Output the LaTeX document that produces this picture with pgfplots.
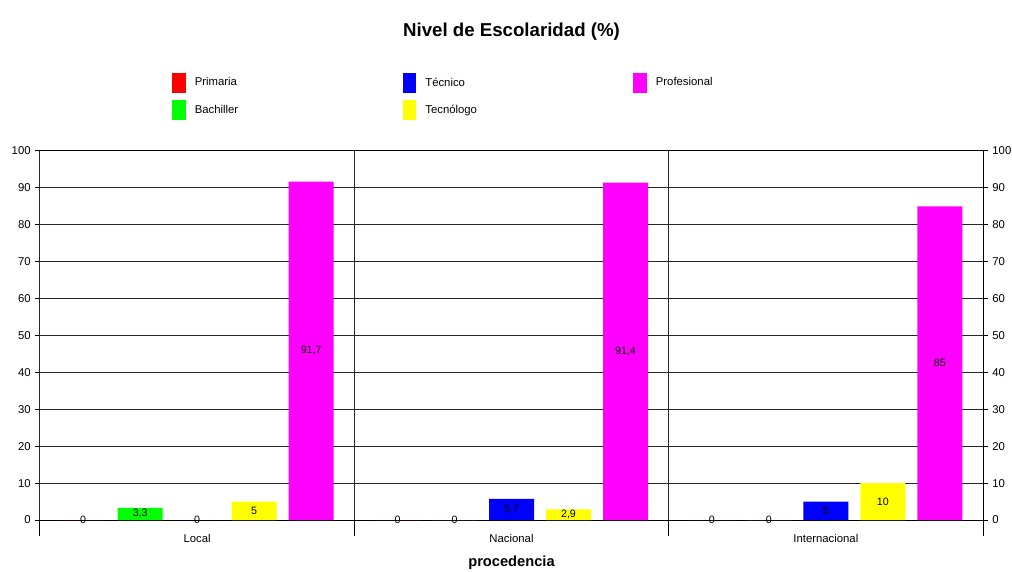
\documentclass[border=0pt]{standalone}
\usepackage{pgfplots}
\pgfplotsset{compat=1.18}
\usepackage{fontspec}
\setmainfont{Liberation Sans}
\definecolor{cRed}{RGB}{255,0,0}
\definecolor{cGreen}{RGB}{0,255,0}
\definecolor{cBlue}{RGB}{0,0,255}
\definecolor{cYellow}{RGB}{255,255,0}
\definecolor{cMag}{RGB}{255,0,255}

\begin{document}
\begin{tikzpicture}
\useasboundingbox (-30pt,-38.25pt) rectangle (729pt,390pt);
\begin{axis}[
  at={(0pt,0pt)}, anchor=south west,
  scale only axis, width=707.25pt, height=276.75pt,
  xmin=-0.5, xmax=2.5, ymin=0, ymax=100,
  ytick={0,10,...,100},
  ytick pos=left, xtick pos=bottom,
  ytick align=outside, major tick length=3.5pt,
  xtick={0,1,2}, xticklabels={Local,Nacional,Internacional},
  xtick style={draw=none},
  xticklabel style={yshift=-7.5pt},
  extra x ticks={-0.5,0.5,1.5,2.5},
  extra x tick labels={},
  extra x tick style={grid=major, xtick style={draw=black, line width=0.75pt}, xtick align=outside, major tick length=12pt},
  ymajorgrids,
  major grid style={black!85, line width=0.75pt},
  axis line style={black, line width=0.75pt},
  ytick style={black, line width=0.75pt},
  ticklabel style={font=\fontsize{8.5}{10}\selectfont},
  /pgf/number format/assume math mode=true,
  title={Nivel de Escolaridad (\%)},
  title style={font=\bfseries\fontsize{14}{16}\selectfont, at={(axis description cs:0.5,1.301)}, anchor=center},
  xlabel={procedencia},
  xlabel style={font=\bfseries\fontsize{11}{13}\selectfont, at={(axis description cs:0.5,-0.1165)}, anchor=center},
  legend columns=3,
  legend cell align=left,
  legend style={at={(axis description cs:0.140,1.2114)}, anchor=north west, draw=none, fill=none, inner sep=0pt, row sep=6pt,
    nodes={inner sep=0pt, font=\fontsize{8.5}{10}\selectfont},
    /tikz/every odd column/.append style={column sep=7pt}},
  visualization depends on={rawy \as \rawy},
  nodes near coords={\pgfmathprintnumber[fixed, precision=1, use comma]{\pgfplotspointmeta}},
  nodes near coords style={anchor=center, yshift={-\rawy*1.38375pt}, font=\fontsize{8}{9}\selectfont, text=black},
]
\addplot[ybar, bar width=33.75pt, bar shift=-85.5pt, fill=cRed, draw=none, forget plot,
  every node near coord/.append style={xshift=-85.5pt}] coordinates {(0,0) (1,0) (2,0)};
\addplot[ybar, bar width=33.75pt, bar shift=-42.75pt, fill=cGreen, draw=none, forget plot,
  every node near coord/.append style={xshift=-42.75pt}] coordinates {(0,3.3) (1,0) (2,0)};
\addplot[ybar, bar width=33.75pt, bar shift=0pt, fill=cBlue, draw=none, forget plot] coordinates {(0,0) (1,5.7) (2,5)};
\addplot[ybar, bar width=33.75pt, bar shift=42.75pt, fill=cYellow, draw=none, forget plot,
  every node near coord/.append style={xshift=42.75pt}] coordinates {(0,5) (1,2.9) (2,10)};
\addplot[ybar, bar width=33.75pt, bar shift=85.5pt, fill=cMag, draw=none, forget plot,
  every node near coord/.append style={xshift=85.5pt}] coordinates {(0,91.7) (1,91.4) (2,85)};
\addlegendimage{legend image code/.code={\fill[cRed] (0pt,-7pt) rectangle (9.5pt,7pt);}}
\addlegendentry{\makebox[156pt][l]{Primaria}}
\addlegendimage{legend image code/.code={\fill[cBlue] (0pt,-7pt) rectangle (9.5pt,7pt);}}
\addlegendentry{\makebox[156pt][l]{Técnico}}
\addlegendimage{legend image code/.code={\fill[cMag] (0pt,-7pt) rectangle (9.5pt,7pt);}}
\addlegendentry{\makebox[156pt][l]{Profesional}}
\addlegendimage{legend image code/.code={\fill[cGreen] (0pt,-7pt) rectangle (9.5pt,7pt);}}
\addlegendentry{\makebox[156pt][l]{Bachiller}}
\addlegendimage{legend image code/.code={\fill[cYellow] (0pt,-7pt) rectangle (9.5pt,7pt);}}
\addlegendentry{\makebox[156pt][l]{Tecnólogo}}
\end{axis}
\begin{axis}[
  at={(0pt,0pt)}, anchor=south west,
  scale only axis, width=707.25pt, height=276.75pt,
  xmin=-0.5, xmax=2.5, ymin=0, ymax=100,
  axis x line=none, axis y line*=right,
  axis line style={black, line width=0.75pt, -},
  ytick={0,10,...,100},
  ytick align=outside, major tick length=3.5pt,
  ytick style={black, line width=0.75pt},
  ticklabel style={font=\fontsize{8.5}{10}\selectfont},
  /pgf/number format/assume math mode=true,
]
\end{axis}
\end{tikzpicture}
\end{document}
